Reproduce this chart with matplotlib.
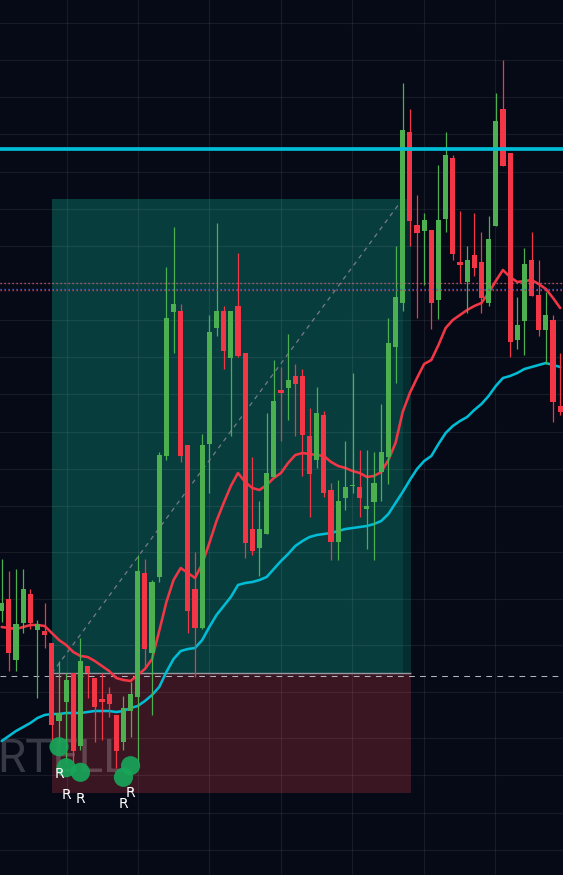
import numpy as np
import matplotlib
matplotlib.use("Agg")
import matplotlib.pyplot as plt
from matplotlib.patches import Rectangle

# ---------------- data (price units) ----------------
opens = [264, 276, 215, 252, 281, 245, 244, 232, 154, 173,
         202, 129, 209, 197, 176, 181, 160, 133, 164, 178,
         302, 222, 298, 419, 563, 564, 430, 286, 247, 431,
         547, 564, 517, 569, 522, 346, 327, 341, 398, 485,
         487, 499, 499, 439, 415, 460, 385, 333, 377, 389,
         388, 366, 373, 403, 418, 528, 572, 743, 650, 644,
         645, 575, 656, 717, 613, 593, 620, 613, 572, 649,
         766, 722, 535, 554, 615, 580, 545, 555, 469]
highs = [316, 304, 306, 306, 286, 255, 272, 232, 214, 202,
         202, 237, 209, 197, 202, 188, 160, 179, 193, 320,
         316, 295, 423, 608, 648, 571, 430, 323, 441, 560,
         652, 569, 564, 622, 522, 418, 374, 462, 515, 508,
         541, 511, 506, 467, 488, 464, 392, 395, 434, 502,
         425, 425, 423, 471, 557, 629, 792, 766, 680, 662,
         645, 710, 743, 720, 664, 629, 662, 643, 659, 782,
         815, 722, 578, 627, 643, 615, 583, 560, 522]
lows = [253, 204, 204, 242, 246, 177, 227, 134, 130, 112,
        112, 125, 177, 133, 135, 158, 107, 125, 138, 112,
        207, 160, 293, 415, 522, 413, 242, 198, 246, 382,
        539, 506, 439, 518, 317, 320, 299, 341, 398, 434,
        455, 439, 399, 358, 407, 378, 315, 315, 365, 382,
        358, 326, 315, 374, 391, 492, 564, 629, 557, 590,
        546, 556, 643, 615, 592, 562, 599, 562, 569, 649,
        709, 518, 526, 520, 579, 539, 511, 453, 460]
closes = [272, 222, 251, 286, 252, 251, 240, 150, 162, 195,
          124, 214, 202, 168, 173, 171, 124, 167, 181, 304,
          226, 293, 420, 557, 571, 419, 264, 247, 430, 543,
          564, 524, 564, 519, 332, 324, 346, 402, 474, 482,
          495, 491, 440, 401, 462, 382, 333, 374, 388, 390,
          377, 369, 392, 423, 532, 578, 745, 654, 642, 655,
          572, 655, 720, 621, 610, 615, 607, 577, 636, 754,
          709, 533, 550, 611, 579, 545, 560, 473, 463]

ema_fast = [248, 247, 246, 248, 250, 250, 249, 242, 235, 230,
            223, 219, 218, 214, 209, 204, 197, 195, 194, 200,
            206, 216, 244, 273, 295, 307, 302, 297, 311, 332,
            354, 372, 389, 402, 393, 387, 385, 390, 397, 402,
            412, 420, 422, 421, 420, 419, 413, 409, 407, 404,
            402, 398, 399, 403, 415, 432, 463, 482, 497, 511,
            515, 530, 547, 555, 560, 565, 569, 572, 582, 594,
            605, 598, 593, 594, 595, 591, 586, 577, 567]
ema_slow = [134, 139, 144, 148, 152, 157, 160, 161, 161, 162,
            162, 162, 163, 164, 164, 164, 163, 164, 167, 169,
            174, 180, 188, 203, 216, 224, 226, 227, 235, 248,
            260, 269, 278, 290, 292, 293, 295, 298, 306, 314,
            321, 329, 334, 338, 340, 341, 342, 344, 346, 347,
            348, 349, 351, 354, 361, 372, 383, 395, 406, 414,
            419, 431, 442, 449, 454, 458, 465, 471, 479, 489,
            497, 499, 502, 506, 508, 510, 512, 510, 508]

resistance_level = 726.2
dotted_levels = [591.7, 586.3, 584.7]
entry_price = 201.7
target_price = 676.0
stop_price = 82.0
pos_start, pos_hit, pos_end = 7.0, 56.0, 57.1

signal_idx = [8, 9, 11, 17, 18]
signal_price = [128.3, 107.3, 102.7, 97.7, 109.3]
signal_labels = ["R", "R", "R", "R", "R"]

watermark = "RTELL"

grid_prices = [851.7, 814.7, 777.7, 740.7, 702.7, 665.7, 629, 592, 555, 518,
               481, 442.7, 405.7, 368.7, 322.7, 275.7, 229.7, 182.7, 136.7,
               99.7, 61.7, 24.7]
grid_idx = [9.16, 19.08, 29.0, 38.96, 48.92, 59.02, 68.94]

# ---------------- styling ----------------
BG = "#060a16"
UP = "#4caf50"
DOWN = "#f23645"

fig = plt.figure(figsize=(5.63, 8.75), dpi=100, facecolor=BG)
ax = fig.add_axes([0, 0, 1, 1])
ax.set_facecolor(BG)
ax.set_xlim(-0.237, 78.39)
ax.set_ylim(0, 875)
ax.axis("off")

# position tool rectangles
ax.add_patch(Rectangle((pos_start, entry_price), pos_hit - pos_start,
                       target_price - entry_price, facecolor="#073e3d",
                       edgecolor="none", zorder=1))
ax.add_patch(Rectangle((pos_hit, entry_price), pos_end - pos_hit,
                       target_price - entry_price, facecolor="#052c2f",
                       edgecolor="none", zorder=1))
ax.add_patch(Rectangle((pos_start, stop_price), pos_end - pos_start,
                       entry_price - stop_price, facecolor="#3a1622",
                       edgecolor="none", zorder=1))

# grid
for gp in grid_prices:
    ax.axhline(gp, color="white", alpha=0.07, lw=0.9, zorder=2)
for gi in grid_idx:
    ax.axvline(gi, color="white", alpha=0.07, lw=0.9, zorder=2)

# watermark
ax.text(-0.66, 103.3, watermark, fontsize=33, color="white", alpha=0.2,
        ha="left", va="baseline", zorder=2.5,
        family=["Liberation Sans Narrow", "Roboto", "DejaVu Sans"])

# entry line, dashed price line, diagonal
ax.hlines(entry_price, pos_start, pos_end, color="#9598a1", lw=1.0, zorder=3)
ax.axhline(199.5, color="#b2b5be", lw=0.75, dashes=(5.5, 5.1), zorder=3)
ax.plot([pos_start, pos_hit], [entry_price, target_price], color="#787b86",
        lw=0.9, dashes=(3.5, 3.5), zorder=3)

# moving averages
x = np.arange(len(opens))
ax.plot(x, ema_fast, color=DOWN, lw=1.85, zorder=4, solid_capstyle="round",
        solid_joinstyle="round")
ax.plot(x, ema_slow, color="#00bcd4", lw=1.85, zorder=4,
        solid_capstyle="round", solid_joinstyle="round")

# candles
o = np.array(opens, float)
c = np.array(closes, float)
h = np.array(highs, float)
l = np.array(lows, float)
cols = [UP if cc >= oo else DOWN for oo, cc in zip(o, c)]
ax.vlines(x, l, h, colors=cols, lw=0.9, zorder=5)
bottom = np.minimum(o, c)
height = np.maximum(np.abs(c - o), 1.2)
ax.bar(x, height, bottom=bottom, width=0.72, color=cols, zorder=5.1,
       linewidth=0)

# horizontal levels
ax.axhline(resistance_level, color="#00bcd4", lw=2.7, zorder=6)
dot_cols = ["#e8506e", "#2962ff", "#f23645"]
for lvl, dc in zip(dotted_levels, dot_cols):
    ax.axhline(lvl, color=dc, lw=0.96, linestyle=(0, (1, 2)),
               dash_capstyle="butt", zorder=6)

# signal markers
ax.scatter(signal_idx, signal_price, s=190, color="#17a85a", alpha=0.9,
           edgecolors="none", zorder=7)
for si, sp, lab in zip(signal_idx, signal_price, signal_labels):
    ax.annotate(lab, (si, sp), xytext=(0, -19.4), textcoords="offset points",
                ha="center", va="center", color="white", fontsize=10,
                zorder=8)

fig.savefig("out.png", dpi=100, facecolor=BG)
